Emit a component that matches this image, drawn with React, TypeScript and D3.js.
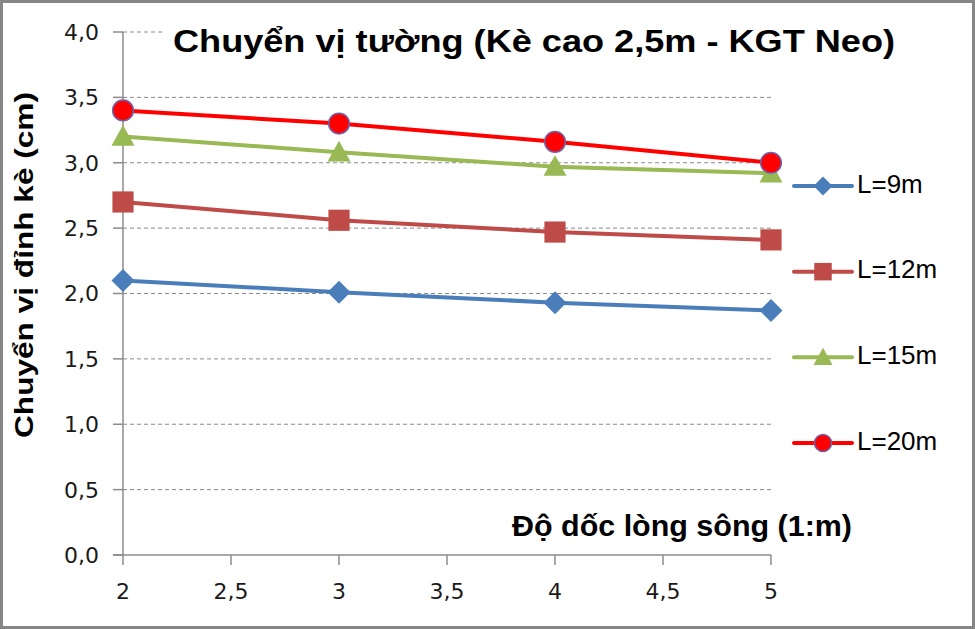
import * as d3 from "d3";

const slopes = [2, 3, 4, 5];
const seriesNames = ["L=9m", "L=12m", "L=15m", "L=20m"];
const l9 = [2.1, 2.01, 1.93, 1.87];
const l12 = [2.7, 2.56, 2.47, 2.41];
const l15 = [3.2, 3.08, 2.97, 2.92];
const l20 = [3.4, 3.3, 3.16, 3.0];
const xTicks = [2, 2.5, 3, 3.5, 4, 4.5, 5];
const yTicks = [0, 0.5, 1, 1.5, 2, 2.5, 3, 3.5, 4];

const WIDTH = 975;
const HEIGHT = 629;
const PLOT = { left: 123, right: 771, top: 32, bottom: 555 };

const COLORS = ["#4A7EBB", "#BE4B48", "#98B954", "#FF0000"];
const SHAPES = ["diamond", "square", "triangle", "circle"];

const fmt = (v: number) => String(v).replace(".", ",");

const Marker = ({ shape, color, x, y, size }: { shape: string; color: string; x: number; y: number; size: number }) => {
  const h = size / 2;
  if (shape === "diamond") {
    return <path d={`M${x},${y - h}L${x + h},${y}L${x},${y + h}L${x - h},${y}Z`} fill={color} />;
  }
  if (shape === "square") {
    return <rect x={x - h * 0.92} y={y - h * 0.92} width={size * 0.92} height={size * 0.92} fill={color} />;
  }
  if (shape === "triangle") {
    return <path d={`M${x},${y - h}L${x + h},${y + h * 0.8}L${x - h},${y + h * 0.8}Z`} fill={color} />;
  }
  return <circle cx={x} cy={y} r={h * 0.9} fill={color} stroke="#7060A8" strokeWidth={1.5} />;
};

export default function App() {
  const x = d3.scaleLinear().domain([2, 5]).range([PLOT.left, PLOT.right]);
  const y = d3.scaleLinear().domain([0, 4]).range([PLOT.bottom, PLOT.top]);
  const line = d3
    .line<number>()
    .x((_, i) => x(slopes[i]))
    .y((d) => y(d));

  const series = [l9, l12, l15, l20];
  const legendY = d3.scalePoint<string>().domain(seriesNames).range([186, 443]);

  return (
    <div style={{ position: "absolute", left: 0, top: 0 }}>
      <svg width={WIDTH} height={HEIGHT} style={{ display: "block" }}>
        <rect x={0} y={0} width={WIDTH} height={HEIGHT} fill="#fff" />
        <rect x={1.5} y={1.5} width={WIDTH - 3} height={HEIGHT - 3} fill="none" stroke="#868686" strokeWidth={3} />

        {/* gridlines */}
        {yTicks.slice(1).map((t) => (
          <line
            key={t}
            x1={PLOT.left}
            x2={PLOT.right}
            y1={y(t)}
            y2={y(t)}
            stroke="#8a8a8a"
            strokeWidth={1}
            strokeDasharray="4,3"
          />
        ))}

        {/* title box covers the top gridline */}
        <rect x={165} y={14} width={740} height={48} fill="#fff" />
        <text
          x={534}
          y={52}
          textAnchor="middle"
          fontFamily="Liberation Sans, Arial, sans-serif"
          fontWeight="bold"
          fontSize={32}
          textLength={722}
          lengthAdjust="spacingAndGlyphs"
          fill="#000"
        >
          Chuyển vị tường (Kè cao 2,5m - KGT Neo)
        </text>

        {/* axes */}
        <line x1={PLOT.left} x2={PLOT.left} y1={PLOT.top} y2={PLOT.bottom} stroke="#8c8c8c" strokeWidth={1.5} />
        <line x1={PLOT.left - 10} x2={PLOT.right} y1={PLOT.bottom} y2={PLOT.bottom} stroke="#8c8c8c" strokeWidth={1.5} />
        {yTicks.map((t) => (
          <g key={t}>
            <line x1={PLOT.left - 10} x2={PLOT.left} y1={y(t)} y2={y(t)} stroke="#8c8c8c" strokeWidth={1.5} />
            <text
              x={99}
              y={y(t)}
              dy="0.36em"
              textAnchor="end"
              fontFamily="DejaVu Sans, Verdana, sans-serif"
              fontSize={22}
              fill="#1a1a1a"
            >
              {fmt(t.toFixed(1) as any)}
            </text>
          </g>
        ))}
        {xTicks.map((t) => (
          <g key={t}>
            <line x1={x(t)} x2={x(t)} y1={PLOT.bottom} y2={PLOT.bottom + 10} stroke="#8c8c8c" strokeWidth={1.5} />
            <text
              x={x(t)}
              y={599}
              textAnchor="middle"
              fontFamily="DejaVu Sans, Verdana, sans-serif"
              fontSize={22}
              fill="#1a1a1a"
            >
              {fmt(t)}
            </text>
          </g>
        ))}

        <text
          x={512}
          y={536}
          fontFamily="Liberation Sans, Arial, sans-serif"
          fontWeight="bold"
          fontSize={30}
          textLength={340}
          lengthAdjust="spacingAndGlyphs"
          fill="#000"
        >
          Độ dốc lòng sông (1:m)
        </text>
        <text
          transform="translate(33,265) rotate(-90)"
          textAnchor="middle"
          fontFamily="Liberation Sans, Arial, sans-serif"
          fontWeight="bold"
          fontSize={25}
          textLength={346}
          lengthAdjust="spacingAndGlyphs"
          fill="#000"
        >
          Chuyển vị đỉnh kè (cm)
        </text>

        {/* series */}
        {series.map((vals, si) => (
          <g key={seriesNames[si]}>
            <path d={line(vals) ?? ""} fill="none" stroke={COLORS[si]} strokeWidth={4} strokeLinejoin="round" />
            {vals.map((v, i) => (
              <Marker key={i} shape={SHAPES[si]} color={COLORS[si]} x={x(slopes[i])} y={y(v)} size={23} />
            ))}
          </g>
        ))}

        {/* legend */}
        {seriesNames.map((name, si) => {
          const ly = legendY(name) ?? 0;
          return (
            <g key={name}>
              <line x1={794} x2={852} y1={ly} y2={ly} stroke={COLORS[si]} strokeWidth={4} strokeLinecap="round" />
              <Marker shape={SHAPES[si]} color={COLORS[si]} x={823} y={ly} size={19} />
              <text
                x={857}
                y={ly + 6.5}
                fontFamily="Liberation Sans, Arial, sans-serif"
                fontSize={26}
                fill="#000"
              >
                {name}
              </text>
            </g>
          );
        })}
      </svg>
    </div>
  );
}
